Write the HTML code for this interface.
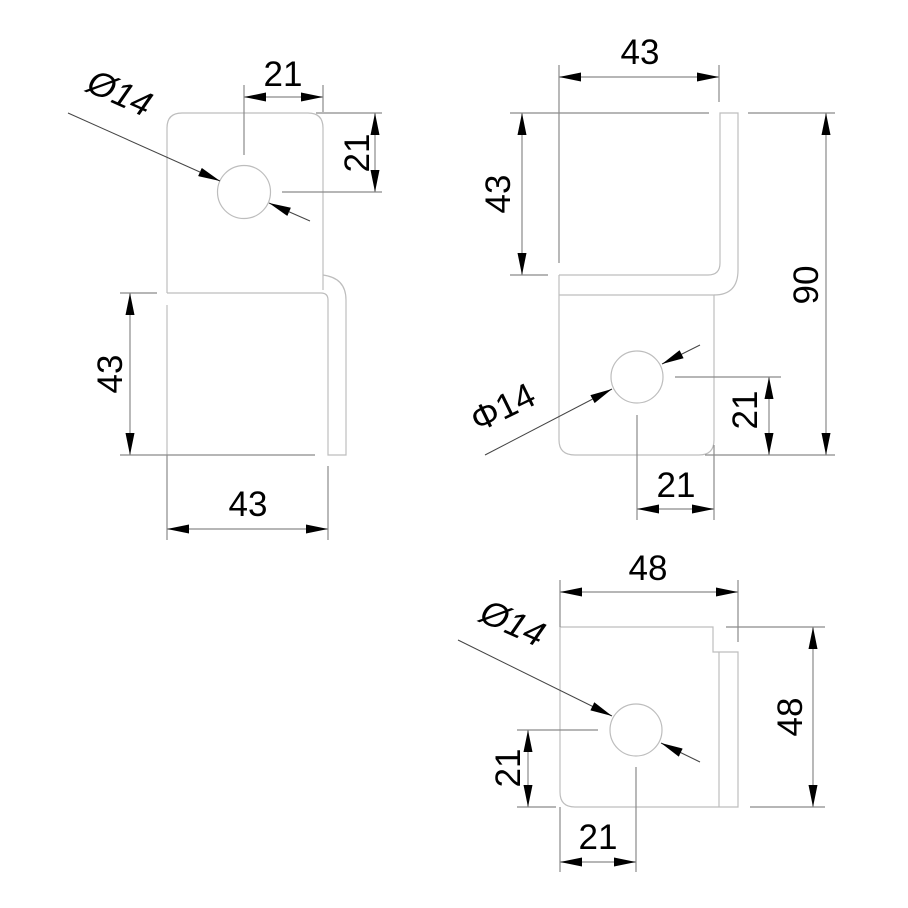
<!DOCTYPE html>
<html><head><meta charset="utf-8"><style>
html,body{margin:0;padding:0;background:#fff}
svg{display:block}
text{font-family:"Liberation Sans",sans-serif;font-size:35px;fill:#000}
.p{stroke:#bdbdbd;stroke-width:1.2;fill:none}
.d{stroke:#8a8a8a;stroke-width:1.2;fill:none}
.l{stroke:#444;stroke-width:1;fill:none}
</style></head><body>
<svg width="908" height="908" viewBox="0 0 908 908" xmlns="http://www.w3.org/2000/svg">
<defs>
<marker id="a" viewBox="0 0 22 9" refX="22" refY="4.5" markerWidth="22" markerHeight="9" markerUnits="userSpaceOnUse" orient="auto-start-reverse"><path d="M0,0 L22,4.5 L0,9 Z" fill="#000"/></marker>
</defs>

<!-- VIEW 1 -->
<path class="p" d="M167,293 V128 Q167,113 182,113 H308 Q323,113 323,128 V290"/>
<path class="p" d="M167,293 H321 Q328,293 328,300 V455 H346 V300 Q346,278 323,275"/>
<line class="p" x1="167" y1="305" x2="167" y2="455"/>
<circle class="p" cx="244" cy="192" r="26.5"/>
<line class="d" x1="244" y1="85" x2="244" y2="155"/>
<line class="d" x1="323" y1="85" x2="323" y2="112"/>
<line class="d" x1="244" y1="97" x2="323" y2="97" marker-start="url(#a)" marker-end="url(#a)"/>
<text x="283" y="86" text-anchor="middle">21</text>
<line class="d" x1="316" y1="113" x2="382" y2="113"/>
<line class="d" x1="282" y1="192" x2="382" y2="192"/>
<line class="d" x1="375" y1="113" x2="375" y2="192" marker-start="url(#a)" marker-end="url(#a)"/>
<text transform="translate(369,153) rotate(-90)" text-anchor="middle">21</text>
<line class="l" x1="68" y1="113" x2="220" y2="181" marker-end="url(#a)"/>
<line class="l" x1="310" y1="221" x2="269" y2="203" marker-end="url(#a)"/>
<text transform="translate(115,104) rotate(24)" text-anchor="middle" font-style="italic">Ø14</text>
<line class="d" x1="120" y1="293" x2="157" y2="293"/>
<line class="d" x1="120" y1="455" x2="315" y2="455"/>
<line class="d" x1="130" y1="293" x2="130" y2="455" marker-start="url(#a)" marker-end="url(#a)"/>
<text transform="translate(122,374) rotate(-90)" text-anchor="middle">43</text>
<line class="d" x1="167" y1="455" x2="167" y2="540"/>
<line class="d" x1="328" y1="466" x2="328" y2="540"/>
<line class="d" x1="167" y1="529" x2="328" y2="529" marker-start="url(#a)" marker-end="url(#a)"/>
<text x="248" y="516" text-anchor="middle">43</text>

<!-- VIEW 2 -->
<path class="p" d="M559,275 H708 Q720,275 720,263 V113 H738 V270 Q738,295 714,295"/>
<path class="p" d="M559,295 H714 V440 Q714,455 699,455 H575 Q559,455 559,440 V275"/>
<circle class="p" cx="637" cy="377" r="26"/>
<line class="d" x1="559" y1="65" x2="559" y2="263"/>
<line class="d" x1="719" y1="65" x2="719" y2="102"/>
<line class="d" x1="559" y1="77" x2="719" y2="77" marker-start="url(#a)" marker-end="url(#a)"/>
<text x="640" y="64" text-anchor="middle">43</text>
<line class="d" x1="510" y1="113" x2="709" y2="113"/>
<line class="d" x1="748" y1="113" x2="835" y2="113"/>
<line class="d" x1="510" y1="275" x2="548" y2="275"/>
<line class="d" x1="522" y1="113" x2="522" y2="275" marker-start="url(#a)" marker-end="url(#a)"/>
<text transform="translate(510,194) rotate(-90)" text-anchor="middle">43</text>
<line class="d" x1="705" y1="455" x2="835" y2="455"/>
<line class="d" x1="826" y1="113" x2="826" y2="455" marker-start="url(#a)" marker-end="url(#a)"/>
<text transform="translate(818,285) rotate(-90)" text-anchor="middle">90</text>
<line class="d" x1="675" y1="377" x2="781" y2="377"/>
<line class="d" x1="769" y1="377" x2="769" y2="455" marker-start="url(#a)" marker-end="url(#a)"/>
<text transform="translate(757,410) rotate(-90)" text-anchor="middle">21</text>
<line class="d" x1="637" y1="415" x2="637" y2="520"/>
<line class="d" x1="714" y1="445" x2="714" y2="520"/>
<line class="d" x1="637" y1="509" x2="714" y2="509" marker-start="url(#a)" marker-end="url(#a)"/>
<text x="676" y="497" text-anchor="middle">21</text>
<line class="l" x1="485" y1="455" x2="612" y2="389" marker-end="url(#a)"/>
<line class="l" x1="700" y1="345" x2="662" y2="364" marker-end="url(#a)"/>
<text transform="translate(508,418) rotate(-26)" text-anchor="middle">Φ14</text>

<!-- VIEW 3 -->
<path class="p" d="M560,627 H713 V652 H738 V807 H575 Q560,807 560,792 V627"/>
<line class="p" x1="719" y1="652" x2="719" y2="807"/>
<circle class="p" cx="636" cy="730" r="26"/>
<line class="d" x1="560" y1="580" x2="560" y2="627"/>
<line class="d" x1="738" y1="580" x2="738" y2="642"/>
<line class="d" x1="560" y1="592" x2="738" y2="592" marker-start="url(#a)" marker-end="url(#a)"/>
<text x="648" y="580" text-anchor="middle">48</text>
<line class="d" x1="726" y1="627" x2="825" y2="627"/>
<line class="d" x1="750" y1="807" x2="825" y2="807"/>
<line class="d" x1="813" y1="627" x2="813" y2="807" marker-start="url(#a)" marker-end="url(#a)"/>
<text transform="translate(802,717) rotate(-90)" text-anchor="middle">48</text>
<line class="d" x1="517" y1="730" x2="598" y2="730"/>
<line class="d" x1="517" y1="807" x2="556" y2="807"/>
<line class="d" x1="528" y1="730" x2="528" y2="807" marker-start="url(#a)" marker-end="url(#a)"/>
<text transform="translate(520,768) rotate(-90)" text-anchor="middle">21</text>
<line class="d" x1="560" y1="807" x2="560" y2="872"/>
<line class="d" x1="636" y1="767" x2="636" y2="872"/>
<line class="d" x1="560" y1="862" x2="636" y2="862" marker-start="url(#a)" marker-end="url(#a)"/>
<text x="598" y="849" text-anchor="middle">21</text>
<line class="l" x1="458" y1="640" x2="612" y2="716" marker-end="url(#a)"/>
<line class="l" x1="700" y1="762" x2="661" y2="743" marker-end="url(#a)"/>
<text transform="translate(508,634) rotate(24)" text-anchor="middle" font-style="italic">Ø14</text>
</svg>
</body></html>
